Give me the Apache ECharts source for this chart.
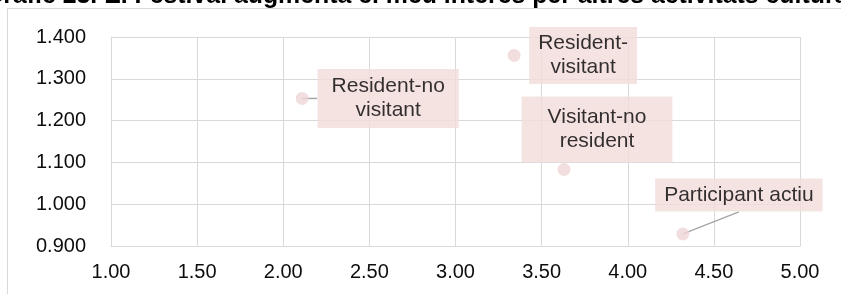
<!DOCTYPE html>
<html>
<head>
    <meta charset="utf-8">
    <title>Grafic 23</title>
    <script src="https://cdn.jsdelivr.net/npm/echarts@6/dist/echarts.min.js"></script>
    <style>
        html, body {
            margin: 0;
            padding: 0;
            background: #ffffff;
        }

        #chart {
            width: 841px;
            height: 294px;
        }
    </style>
</head>
<body>
<div id="chart"></div>
<script>
// valors llegits del grafic
var pointNames = ['Resident-no\nvisitant', 'Resident-\nvisitant', 'Visitant-no\nresident', 'Participant actiu'];
var xValues = [2.11, 3.34, 3.63, 4.32];
var yValues = [1.253, 1.356, 1.083, 0.929];

// posicio i mida de les etiquetes (estil, en pixels respecte al punt)
var labelOffsets = [[86, 0], [69, 0], [33, -40], [56, -39]];
var labelPadding = [[6, 14, 5, 14], [5, 9, 4, 9], [9, 26, 9, 26], [5, 9, 4, 9]];
// final de la linia guia, en pixels respecte al punt (null = sense linia)
var leaderEnds = [[15, 0], null, null, [56, -22]];

var chart = echarts.init(document.getElementById('chart'));

var points = [];
var leaders = [];
for (var i = 0; i < xValues.length; i++) {
    points.push({
        name: pointNames[i],
        value: [xValues[i], yValues[i]],
        label: {
            offset: labelOffsets[i],
            padding: labelPadding[i]
        }
    });
    if (leaderEnds[i]) {
        leaders.push([xValues[i], yValues[i], leaderEnds[i][0], leaderEnds[i][1]]);
    }
}

var option = {
    animation: false,
    backgroundColor: '#ffffff',
    textStyle: {fontFamily: 'Liberation Sans, Arial, sans-serif'},
    graphic: [
        {
            type: 'text',
            left: -16,
            top: -16,
            style: {
                text: 'Gràfic 23. E. Festival augmenta el meu interès per altres activitats culturals',
                font: 'bold 24.85px "Liberation Sans", Arial, sans-serif',
                fill: '#000000'
            }
        },
        {
            type: 'rect',
            shape: {x: 7.5, y: 8.5, width: 900, height: 400},
            style: {fill: 'none', stroke: '#d9d9d9', lineWidth: 1},
            silent: true
        }
    ],
    grid: {
        left: 111,
        right: 41,
        top: 37,
        bottom: 48
    },
    xAxis: {
        type: 'value',
        min: 1,
        max: 5,
        interval: 0.5,
        axisLine: {show: true, lineStyle: {color: '#d9d9d9'}},
        axisTick: {show: false},
        splitLine: {show: true, lineStyle: {color: '#d9d9d9', width: 1}},
        axisLabel: {
            margin: 16,
            fontSize: 20,
            color: '#0d0d0d',
            formatter: function (v) { return v.toFixed(2); }
        }
    },
    yAxis: {
        type: 'value',
        min: 0.9,
        max: 1.4,
        interval: 0.1,
        axisLine: {show: true, lineStyle: {color: '#d9d9d9'}},
        axisTick: {show: false},
        splitLine: {show: true, lineStyle: {color: '#d9d9d9', width: 1}},
        axisLabel: {
            margin: 25,
            fontSize: 20,
            color: '#0d0d0d',
            formatter: function (v) { return v.toFixed(3); }
        }
    },
    series: [
        {
            type: 'scatter',
            symbol: 'circle',
            symbolSize: 13,
            itemStyle: {color: '#efd6d6'},
            label: {
                show: true,
                position: 'inside',
                formatter: '{b}',
                fontSize: 21,
                lineHeight: 24,
                color: '#000000',
                backgroundColor: '#f2dcdb',
                align: 'center'
            },
            data: points
        },
        {
            // linies guia de les etiquetes
            type: 'custom',
            silent: true,
            encode: {x: 0, y: 1},
            renderItem: function (params, api) {
                var p = api.coord([api.value(0), api.value(1)]);
                return {
                    type: 'line',
                    shape: {
                        x1: p[0],
                        y1: p[1],
                        x2: p[0] + api.value(2),
                        y2: p[1] + api.value(3)
                    },
                    style: {stroke: '#a6a6a6', lineWidth: 1.5}
                };
            },
            data: leaders
        }
    ]
};

chart.setOption(option);
</script>
</body>
</html>
